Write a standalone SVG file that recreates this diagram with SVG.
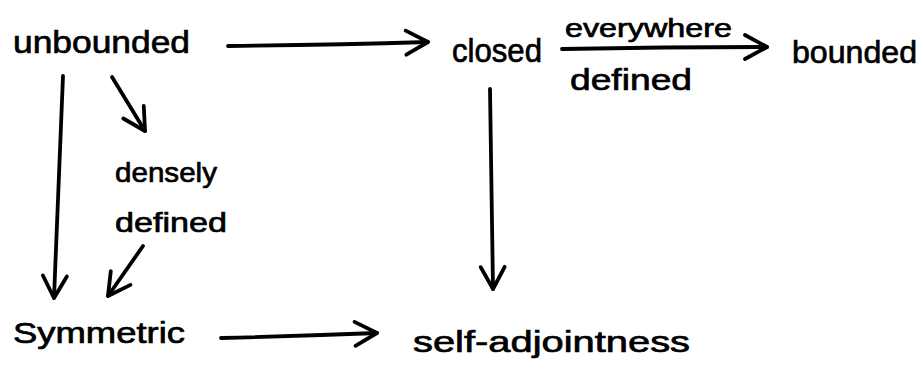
<svg xmlns="http://www.w3.org/2000/svg" width="921" height="373" viewBox="0 0 921 373">
  <style>
    .bg { fill: #ffffff; }
    .lbl { font-family: "Liberation Sans", "DejaVu Sans", sans-serif; fill: #000000; stroke: #000000; stroke-width: 0.7; }
    .edge { fill: none; stroke: #000000; stroke-width: 3.8; stroke-linecap: round; stroke-linejoin: round; }
  </style>
  <defs>
    <!-- open chevron arrowhead, sized in user units -->
    <marker id="head" markerUnits="userSpaceOnUse" viewBox="-26 -16 30 32" refX="0" refY="0"
            markerWidth="30" markerHeight="32" orient="auto" overflow="visible">
      <path d="M -22 -12 L 0 0 L -22 12" fill="none" stroke="#000000" stroke-width="3.8"
            stroke-linecap="round" stroke-linejoin="round"/>
    </marker>
  </defs>

  <rect class="bg" x="0" y="0" width="921" height="373"/>

  <g id="connectors">
    <path class="edge" d="M 228 46 Q 330 45 428 42" marker-end="url(#head)"/>
    <path class="edge" d="M 562 49 Q 665 47 767 47" marker-end="url(#head)"/>
    <path class="edge" d="M 112 77 L 145 131" marker-end="url(#head)"/>
    <path class="edge" d="M 63 76 L 54 298" marker-end="url(#head)"/>
    <path class="edge" d="M 143 246 L 108 296" marker-end="url(#head)"/>
    <path class="edge" d="M 490 89 L 493 289" marker-end="url(#head)"/>
    <path class="edge" d="M 221 338 Q 300 336 377 333" marker-end="url(#head)"/>
  </g>

  <g id="node-unbounded">
    <text class="lbl" x="13" y="53" font-size="32" textLength="177" lengthAdjust="spacingAndGlyphs">unbounded</text>
  </g>
  <g id="node-closed">
    <text class="lbl" x="452" y="62" font-size="34" textLength="90" lengthAdjust="spacingAndGlyphs">closed</text>
  </g>
  <g id="node-bounded">
    <text class="lbl" x="792" y="63" font-size="32" textLength="125" lengthAdjust="spacingAndGlyphs">bounded</text>
  </g>
  <g id="label-everywhere-defined">
    <text class="lbl" x="565" y="37" font-size="26" textLength="167" lengthAdjust="spacingAndGlyphs">everywhere</text>
    <text class="lbl" x="570" y="90" font-size="30" textLength="122" lengthAdjust="spacingAndGlyphs">defined</text>
  </g>
  <g id="label-densely-defined">
    <text class="lbl" x="115" y="182" font-size="28" textLength="102" lengthAdjust="spacingAndGlyphs">densely</text>
    <text class="lbl" x="115" y="232" font-size="28" textLength="112" lengthAdjust="spacingAndGlyphs">defined</text>
  </g>
  <g id="node-symmetric">
    <text class="lbl" x="13" y="343" font-size="30" textLength="172" lengthAdjust="spacingAndGlyphs">Symmetric</text>
  </g>
  <g id="node-self-adjointness">
    <text class="lbl" x="413" y="352" font-size="30" textLength="277" lengthAdjust="spacingAndGlyphs">self-adjointness</text>
  </g>
</svg>
